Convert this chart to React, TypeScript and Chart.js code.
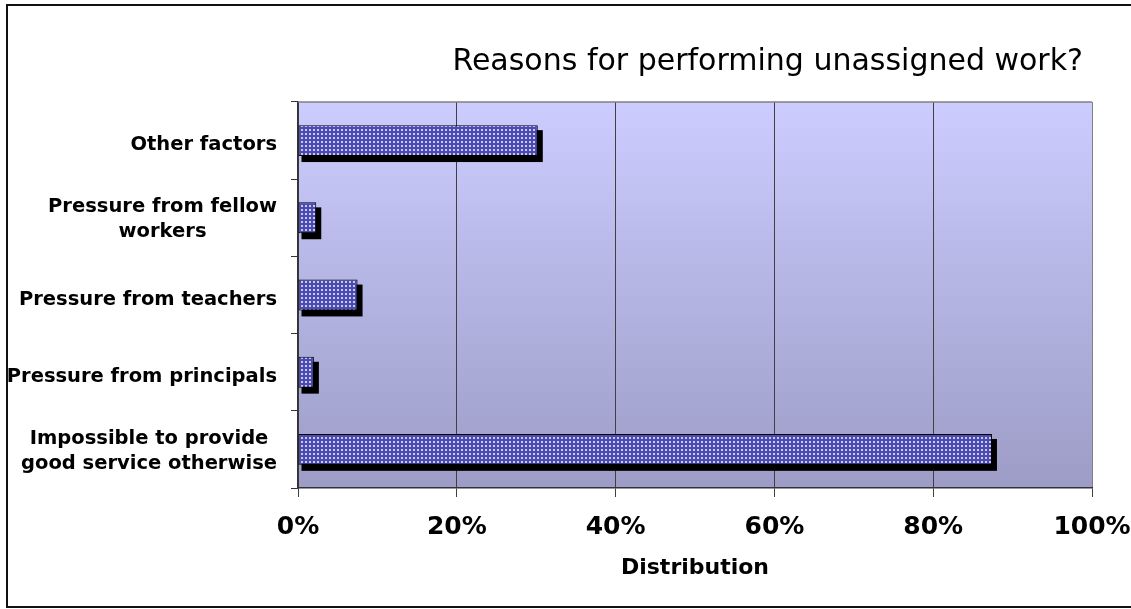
import React, { useEffect, useRef } from "react";
import { Chart, registerables } from "chart.js";
Chart.register(...registerables);

const categories: string[][] = [
  ["Other factors"],
  ["Pressure from fellow", "workers"],
  ["Pressure from teachers"],
  ["Pressure from principals"],
  ["Impossible to provide", "good service otherwise"],
];
const values = [30.2, 2.3, 7.5, 2.0, 87.4];
const xMin = 0;
const xMax = 100;
const xStep = 20;
const chartTitle = "Reasons for performing unassigned work?";
const xAxisTitle = "Distribution";

const W = 1131;
const H = 609;
const FONT = '"DejaVu Sans", Verdana, sans-serif';

function makePattern(): CanvasPattern | string {
  const tile = document.createElement("canvas");
  tile.width = 4;
  tile.height = 4;
  const t = tile.getContext("2d");
  if (!t) return "#5a5ab8";
  t.fillStyle = "#4c4cb0";
  t.fillRect(0, 0, 4, 4);
  t.fillStyle = "#c8c8f8";
  t.fillRect(1, 1, 2, 2);
  const ctx = document.createElement("canvas").getContext("2d");
  const p = ctx ? ctx.createPattern(tile, "repeat") : null;
  return p || "#5a5ab8";
}

const framePlugin = {
  id: "frame",
  beforeDraw(chart: any) {
    const { ctx, chartArea: a } = chart;
    ctx.save();
    ctx.fillStyle = "#ffffff";
    ctx.fillRect(0, 0, chart.width, chart.height);
    const g = ctx.createLinearGradient(0, a.top, 0, a.bottom);
    g.addColorStop(0, "#CCCCFF");
    g.addColorStop(1, "#9C9CC6");
    ctx.fillStyle = g;
    ctx.fillRect(a.left, a.top, a.right - a.left, a.bottom - a.top);
    ctx.restore();
  },
  beforeDatasetsDraw(chart: any) {
    const { ctx, chartArea: a } = chart;
    ctx.save();
    ctx.strokeStyle = "#808080";
    ctx.lineWidth = 1.5;
    ctx.beginPath();
    ctx.moveTo(a.left, a.top);
    ctx.lineTo(a.right, a.top);
    ctx.stroke();
    ctx.fillStyle = "#000000";
    const meta = chart.getDatasetMeta(0);
    meta.data.forEach((bar: any) => {
      const { x, y, base, height } = bar.getProps(["x", "y", "base", "height"], true);
      const top = y - height / 2;
      ctx.fillRect(base + 3, top + 5, x - base + 2, height + 1);
    });
    ctx.restore();
  },
  afterDraw(chart: any) {
    const { ctx } = chart;
    const yScale = chart.scales.y;
    ctx.save();
    ctx.strokeStyle = "#111111";
    ctx.lineWidth = 2;
    ctx.beginPath();
    ctx.moveTo(W, 5);
    ctx.lineTo(7, 5);
    ctx.lineTo(7, 607);
    ctx.lineTo(W, 607);
    ctx.stroke();
    ctx.fillStyle = "#000000";
    ctx.font = `30px ${FONT}`;
    ctx.textAlign = "right";
    ctx.textBaseline = "alphabetic";
    ctx.fillText(chartTitle, 1083, 70);
    ctx.font = `bold 19.5px ${FONT}`;
    ctx.textAlign = "center";
    const labelRight = 277;
    const lh = 25;
    categories.forEach((lines, i) => {
      const yc = yScale.getPixelForValue(i);
      const maxW = Math.max(...lines.map((l) => ctx.measureText(l).width));
      const cx = labelRight - maxW / 2;
      const off = lines.length === 1 ? 9.5 : 7;
      lines.forEach((l, j) => {
        ctx.fillText(l, cx, yc + off + (j - (lines.length - 1) / 2) * lh);
      });
    });
    ctx.restore();
  },
};

export default function App() {
  const ref = useRef<HTMLCanvasElement | null>(null);
  useEffect(() => {
    if (!ref.current) return;
    const pattern = makePattern();
    const chart = new Chart(ref.current, {
      type: "bar",
      data: {
        labels: categories,
        datasets: [
          {
            data: values,
            backgroundColor: pattern as any,
            borderColor: "#000000",
            borderWidth: 1,
            borderSkipped: false,
            barPercentage: 0.4,
            categoryPercentage: 1,
          },
        ],
      },
      options: {
        indexAxis: "y",
        responsive: false,
        animation: false,
        layout: { padding: { left: 0, top: 102, right: 39, bottom: 0 } },
        plugins: {
          legend: { display: false },
          title: { display: false },
          tooltip: { enabled: false },
        },
        scales: {
          x: {
            type: "linear",
            min: xMin,
            max: xMax,
            ticks: {
              stepSize: xStep,
              padding: 15,
              color: "#000000",
              font: { family: FONT, size: 25, weight: "bold" },
              callback: (v: any) => `${v}%`,
            },
            grid: {
              color: (c: any) => (c.tick && c.tick.value === xMax ? "#808080" : "#404040"),
              lineWidth: 1,
              drawTicks: true,
              tickLength: 9,
              tickColor: "#404040",
            },
            border: { display: true, color: "#333333", width: 1.5 },
            title: {
              display: true,
              text: xAxisTitle,
              color: "#000000",
              font: { family: FONT, size: 22, weight: "bold" },
              padding: { top: 0, bottom: 28 },
            },
            afterFit: (s: any) => {
              s.height = 121;
              s.paddingLeft = 0;
              s.paddingRight = 0;
            },
          },
          y: {
            type: "category",
            offset: true,
            ticks: { display: false },
            grid: {
              offset: true,
              drawOnChartArea: false,
              drawTicks: true,
              tickLength: 7,
              color: "#333333",
            },
            border: { display: true, color: "#333333", width: 1.5 },
            afterFit: (s: any) => {
              s.width = 298;
              s.paddingTop = 0;
              s.paddingBottom = 0;
            },
          },
        },
      },
      plugins: [framePlugin],
    });
    return () => chart.destroy();
  }, []);
  return (
    <div style={{ position: "absolute", left: 0, top: 0, width: W, height: H }}>
      <canvas ref={ref} width={W} height={H} style={{ display: "block", width: W, height: H }} />
    </div>
  );
}
